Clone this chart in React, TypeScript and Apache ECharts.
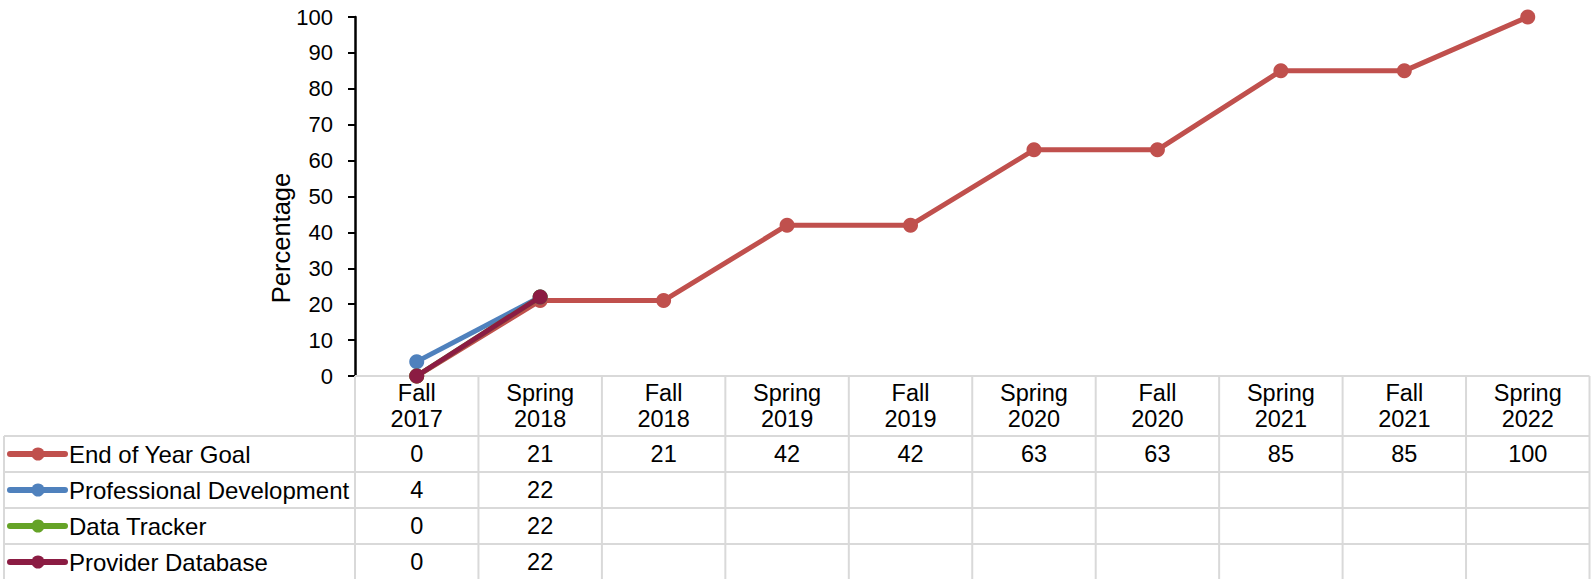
import React, { useEffect, useRef } from "react";
import * as echarts from "echarts";

const categories = [
  "Fall\n2017", "Spring\n2018", "Fall\n2018", "Spring\n2019", "Fall\n2019",
  "Spring\n2020", "Fall\n2020", "Spring\n2021", "Fall\n2021", "Spring\n2022",
];
const seriesNames = ["End of Year Goal", "Professional Development", "Data Tracker", "Provider Database"];
const endOfYearGoal = [0, 21, 21, 42, 42, 63, 63, 85, 85, 100];
const professionalDevelopment = [4, 22, null, null, null, null, null, null, null, null];
const dataTracker = [0, 22, null, null, null, null, null, null, null, null];
const providerDatabase = [0, 22, null, null, null, null, null, null, null, null];
const seriesColors = ["#C0504D", "#4F81BD", "#65A327", "#8B1C43"];
const yTicks = { min: 0, max: 100, interval: 10 };
const yAxisTitle = "Percentage";

const FONT = "'Liberation Sans', Arial, sans-serif";

export default function App() {
  const ref = useRef<HTMLDivElement>(null);

  useEffect(() => {
    if (!ref.current) return;
    const chart = echarts.init(ref.current, undefined, { renderer: "svg" });
    const allData = [endOfYearGoal, professionalDevelopment, dataTracker, providerDatabase];

    const gridLeft = 355;
    const gridRight = 1.5;
    const gridTop = 17;
    const gridBottom = 203;

    chart.setOption({
      animation: false,
      backgroundColor: "#ffffff",
      textStyle: { fontFamily: FONT },
      grid: { left: gridLeft, right: gridRight, top: gridTop, bottom: gridBottom, containLabel: false },
      xAxis: {
        type: "category",
        data: categories,
        boundaryGap: true,
        axisLine: { show: false },
        axisTick: { show: false },
        splitLine: { show: false },
        axisLabel: {
          interval: 0,
          margin: 4,
          fontSize: 23.5,
          lineHeight: 26,
          color: "#000",
          fontFamily: FONT,
        },
      },
      yAxis: {
        type: "value",
        min: yTicks.min,
        max: yTicks.max,
        interval: yTicks.interval,
        axisLine: { show: true, lineStyle: { color: "#000", width: 2.5 } },
        axisTick: { show: true, length: 7, lineStyle: { color: "#000", width: 2 } },
        splitLine: { show: false },
        axisLabel: { margin: 22, fontSize: 22, color: "#000", fontFamily: FONT },
      },
      series: allData.map((d, i) => ({
        name: seriesNames[i],
        type: "line",
        data: d,
        symbol: "circle",
        symbolSize: 15,
        showSymbol: true,
        connectNulls: false,
        lineStyle: { width: 5, color: seriesColors[i] },
        itemStyle: { color: seriesColors[i] },
        z: 3 + i,
      })),
    });

    // Data table below the plot
    const gridColor = "#D9D9D9";
    const plotBottom = 579 - gridBottom;
    const headerBottom = 436;
    const rowH = 36;
    const tableLeft = 4;
    const c0 = chart.convertToPixel({ xAxisIndex: 0 }, 0) as number;
    const c1 = chart.convertToPixel({ xAxisIndex: 0 }, 1) as number;
    const colW = c1 - c0;
    const colLeft = (i: number) => c0 - colW / 2 + i * colW;
    const tableRight = colLeft(categories.length);
    const tableBottom = headerBottom + rowH * seriesNames.length + 2;

    const graphics: any[] = [];
    graphics.push({
      type: "text",
      x: 281,
      y: 238,
      rotation: Math.PI / 2,
      style: {
        text: yAxisTitle,
        fontSize: 25.5,
        fontFamily: FONT,
        fill: "#000",
        textAlign: "center",
        textVerticalAlign: "middle",
      },
      z: 3,
    });

    const line = (x1: number, y1: number, x2: number, y2: number) =>
      graphics.push({
        type: "line",
        shape: { x1, y1, x2, y2 },
        style: { stroke: gridColor, lineWidth: 2 },
        z: 1,
      });

    line(colLeft(0), plotBottom, tableRight, plotBottom);
    for (let r = 0; r <= seriesNames.length; r++) {
      const y = headerBottom + r * rowH;
      line(tableLeft, y, tableRight, y);
    }
    line(tableLeft, headerBottom, tableLeft, tableBottom);
    for (let i = 0; i <= categories.length; i++) {
      line(colLeft(i), plotBottom, colLeft(i), tableBottom);
    }

    seriesNames.forEach((name, r) => {
      const cy = headerBottom + r * rowH + rowH / 2;
      graphics.push({
        type: "line",
        shape: { x1: 10, y1: cy, x2: 65, y2: cy },
        style: { stroke: seriesColors[r], lineWidth: 6, lineCap: "round" },
        z: 2,
      });
      graphics.push({
        type: "circle",
        shape: { cx: 38, cy, r: 6.5 },
        style: { fill: seriesColors[r] },
        z: 3,
      });
      graphics.push({
        type: "text",
        x: 69,
        y: cy,
        style: {
          text: name,
          fontSize: 24,
          fontFamily: FONT,
          fill: "#000",
          textAlign: "left",
          textVerticalAlign: "middle",
        },
        z: 3,
      });
      allData[r].forEach((v, i) => {
        if (v === null || v === undefined) return;
        graphics.push({
          type: "text",
          x: colLeft(i) + colW / 2,
          y: cy,
          style: {
            text: String(v),
            fontSize: 23.5,
            fontFamily: FONT,
            fill: "#000",
            textAlign: "center",
            textVerticalAlign: "middle",
          },
          z: 3,
        });
      });
    });

    chart.setOption({ graphic: graphics });

    return () => chart.dispose();
  }, []);

  return (
    <div
      ref={ref}
      style={{ position: "absolute", left: 0, top: 0, width: 1591, height: 579, background: "#fff" }}
    />
  );
}
